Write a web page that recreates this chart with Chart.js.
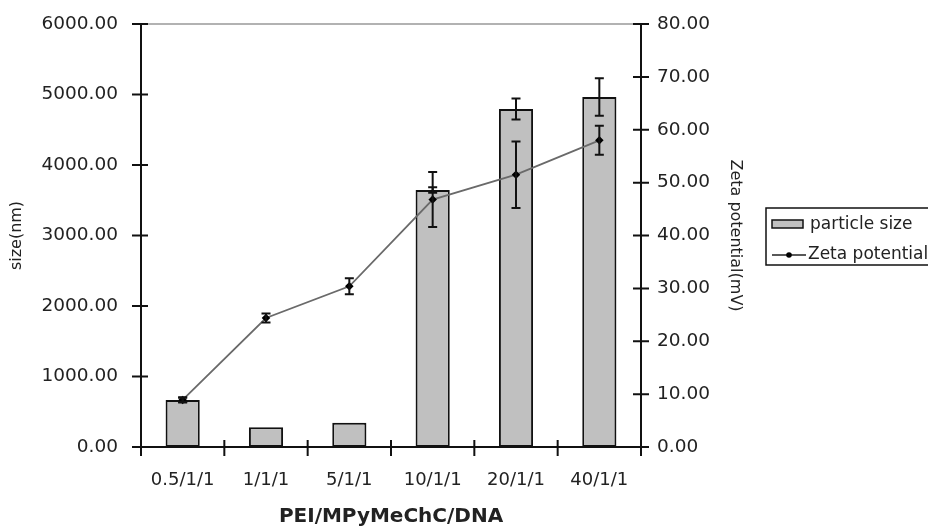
<!DOCTYPE html>
<html>
<head>
<meta charset="utf-8">
<script src="https://cdn.jsdelivr.net/npm/chart.js@4"></script>
<style>
  html, body { margin: 0; padding: 0; background: #fff; }
  #wrap { width: 928px; height: 529px; }
</style>
</head>
<body>
<div id="wrap"><canvas id="chart" width="928" height="529"></canvas></div>
<script>
// ratios PEI/MPyMeChC/DNA
const ratios = ["0.5/1/1", "1/1/1", "5/1/1", "10/1/1", "20/1/1", "40/1/1"];

// particle size (nm) and its error
const sizeValues = [667, 280, 345, 3645, 4794, 4965];
const sizeErrors = [30, 0, 0, 40, 150, 265];

// zeta potential (mV) and its error
const zetaValues = [8.9, 24.4, 30.4, 46.8, 51.5, 58.0];
const zetaErrors = [0.5, 0.85, 1.5, 5.2, 6.3, 2.75];

const fontFamily = "'DejaVu Sans', sans-serif";
Chart.defaults.font.family = fontFamily;
Chart.defaults.color = "#222";

// error bars, cross ticks, top border line
const extrasPlugin = {
    id: "extras",
    afterDatasetsDraw(chart) {
        const ctx = chart.ctx;
        const x = chart.scales.x;
        const yL = chart.scales.y;
        const yR = chart.scales.y1;
        const area = chart.chartArea;

        ctx.save();
        ctx.strokeStyle = "#111";
        ctx.lineWidth = 2;
        const cap = 4.5;
        const drawErr = (px, lo, hi) => {
            ctx.beginPath();
            ctx.moveTo(px, lo); ctx.lineTo(px, hi);
            ctx.moveTo(px - cap, lo); ctx.lineTo(px + cap, lo);
            ctx.moveTo(px - cap, hi); ctx.lineTo(px + cap, hi);
            ctx.stroke();
        };
        sizeValues.forEach((v, i) => {
            if (!sizeErrors[i]) return;
            const px = x.getPixelForValue(i);
            drawErr(px, yL.getPixelForValue(v - sizeErrors[i]), yL.getPixelForValue(v + sizeErrors[i]));
        });
        zetaValues.forEach((v, i) => {
            if (!zetaErrors[i]) return;
            const px = x.getPixelForValue(i);
            drawErr(px, yR.getPixelForValue(v - zetaErrors[i]), yR.getPixelForValue(v + zetaErrors[i]));
        });

        // top border
        ctx.strokeStyle = "#999";
        ctx.lineWidth = 1.5;
        ctx.beginPath();
        ctx.moveTo(area.left, area.top);
        ctx.lineTo(area.right, area.top);
        ctx.stroke();

        // tick marks crossing the axes
        ctx.strokeStyle = "#111";
        ctx.lineWidth = 2;
        ctx.beginPath();
        yL.ticks.forEach((t, i) => {
            const py = yL.getPixelForTick(i);
            ctx.moveTo(area.left - 9, py); ctx.lineTo(area.left + 7, py);
        });
        yR.ticks.forEach((t, i) => {
            const py = yR.getPixelForTick(i);
            ctx.moveTo(area.right - 8, py); ctx.lineTo(area.right + 8, py);
        });
        for (let i = 0; i <= ratios.length; i++) {
            const px = x.getPixelForValue(i - 0.5);
            ctx.moveTo(px, area.bottom - 7); ctx.lineTo(px, area.bottom + 9);
        }
        ctx.stroke();
        ctx.restore();
    }
};

// boxed legend on the right
const legendPlugin = {
    id: "boxLegend",
    afterDraw(chart) {
        const ctx = chart.ctx;
        const bars = chart.data.datasets.find(d => d.type === "bar");
        const line = chart.data.datasets.find(d => d.type === "line");
        ctx.save();
        ctx.strokeStyle = "#111";
        ctx.lineWidth = 1.5;
        ctx.strokeRect(766, 208, 180, 57);

        ctx.fillStyle = bars.backgroundColor;
        ctx.fillRect(772, 220, 31, 8);
        ctx.strokeRect(772, 220, 31, 8);

        ctx.strokeStyle = "#222";
        ctx.lineWidth = 1.5;
        ctx.beginPath();
        ctx.moveTo(772, 255); ctx.lineTo(806, 255);
        ctx.stroke();
        ctx.fillStyle = "#000";
        ctx.beginPath();
        ctx.arc(789, 255, 2.8, 0, Math.PI * 2);
        ctx.fill();

        ctx.fillStyle = "#222";
        ctx.font = "17px " + fontFamily;
        ctx.textBaseline = "middle";
        ctx.fillText(bars.label, 810, 225);
        ctx.fillText(line.label, 808, 255);
        ctx.restore();
    }
};

// fixed width for a y axis, without the tick padding added above and below
function fixWidth(w) {
    return function (scale) {
        scale.width = w;
        scale.paddingTop = 0;
        scale.paddingBottom = 0;
    };
}

new Chart(document.getElementById("chart"), {
    type: "bar",
    data: {
        labels: ratios,
        datasets: [
            {
                type: "line",
                label: "Zeta potential",
                data: zetaValues,
                yAxisID: "y1",
                borderColor: "#6a6a6a",
                borderWidth: 1.8,
                pointBackgroundColor: "#000",
                pointBorderColor: "#000",
                pointRadius: 3,
                pointStyle: "rectRot",
                tension: 0,
                order: 0
            },
            {
                type: "bar",
                label: "particle size",
                data: sizeValues,
                yAxisID: "y",
                backgroundColor: "#c0c0c0",
                borderColor: "#111",
                borderWidth: 2,
                borderSkipped: false,
                barPercentage: 0.41,
                categoryPercentage: 1,
                order: 1
            }
        ]
    },
    options: {
        responsive: false,
        animation: false,
        layout: { padding: { top: 24, right: 183, bottom: 0, left: 0 } },
        plugins: {
            legend: { display: false },
            tooltip: { enabled: false }
        },
        scales: {
            x: {
                grid: { display: false, drawTicks: false },
                border: { display: true, color: "#111", width: 2 },
                ticks: { font: { size: 18 }, padding: 23, maxRotation: 0 },
                title: {
                    display: true,
                    text: "PEI/MPyMeChC/DNA",
                    font: { size: 20, weight: "bold" },
                    padding: { top: 0, bottom: 0 }
                },
                afterFit(scale) { scale.height = 82; }
            },
            y: {
                position: "left",
                min: 0,
                max: 6000,
                grid: { display: false, drawTicks: false },
                border: { display: true, color: "#111", width: 2 },
                ticks: {
                    stepSize: 1000,
                    font: { size: 18.5 },
                    padding: 23,
                    callback: v => v.toFixed(2)
                },
                title: {
                    display: true,
                    text: "size(nm)",
                    font: { size: 16 },
                    padding: { top: 7, bottom: 0 }
                },
                afterFit: fixWidth(141)
            },
            y1: {
                position: "right",
                min: 0,
                max: 80,
                grid: { display: false, drawTicks: false },
                border: { display: true, color: "#111", width: 2 },
                ticks: {
                    stepSize: 10,
                    font: { size: 18.5 },
                    padding: 16,
                    callback: v => v.toFixed(2)
                },
                title: {
                    display: true,
                    text: "Zeta potential(mV)",
                    font: { size: 16 },
                    padding: { top: 0, bottom: 0 }
                },
                afterFit: fixWidth(104)
            }
        }
    },
    plugins: [extrasPlugin, legendPlugin]
});
</script>
</body>
</html>
